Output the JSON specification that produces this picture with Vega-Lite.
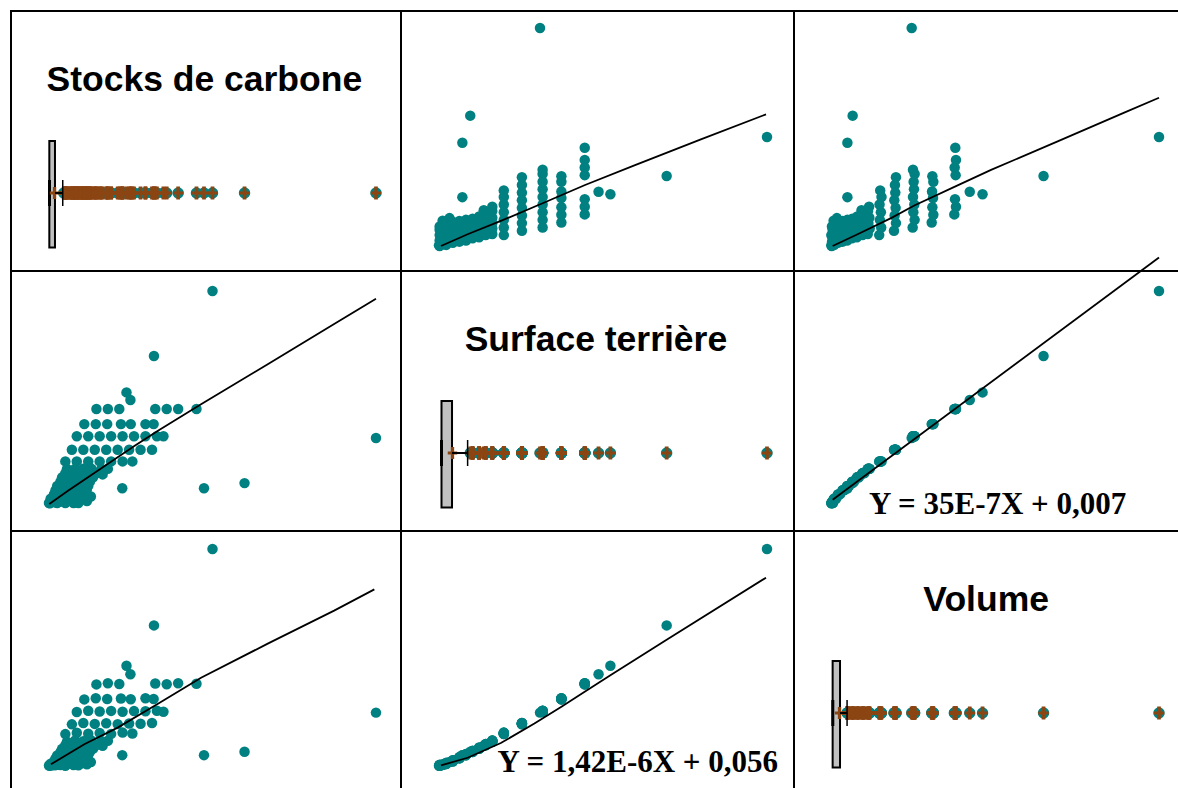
{
  "$schema": "https://vega.github.io/schema/vega-lite/v6.json",
  "background": "white",
  "padding": {"left": 10, "top": 10, "right": 0, "bottom": 0},
  "columns": 3,
  "spacing": 0,
  "bounds": "flush",
  "align": "each",
  "resolve": {"scale": {"x": "independent", "y": "independent"}},
  "config": {
    "view": {"stroke": "#000", "strokeWidth": 2, "fill": "white"},
    "axis": {"disable": true},
    "legend": {"disable": true},
    "concat": {"spacing": 0}
  },
  "datasets": {
    "arbres": [
      {"carbone": 0, "surface": 0.5, "volume": 0.2},
      {"carbone": 2.5, "surface": 0.5, "volume": 0.6},
      {"carbone": 5, "surface": 0.5, "volume": 0.1},
      {"carbone": 7.5, "surface": 0.5, "volume": 0.5},
      {"carbone": 9, "surface": 0.5, "volume": 0.3},
      {"carbone": 11.6, "surface": 1.4, "volume": 0.8},
      {"carbone": 0.5, "surface": 2.5, "volume": 1.0},
      {"carbone": 3, "surface": 2.5, "volume": 1.5},
      {"carbone": 5.5, "surface": 2.5, "volume": 0.9},
      {"carbone": 8, "surface": 2.5, "volume": 1.4},
      {"carbone": 10, "surface": 2.5, "volume": 1.2},
      {"carbone": 12.8, "surface": 3.5, "volume": 1.8},
      {"carbone": 1.5, "surface": 4.5, "volume": 2.1},
      {"carbone": 4, "surface": 4.5, "volume": 2.7},
      {"carbone": 6.5, "surface": 4.5, "volume": 2.3},
      {"carbone": 9, "surface": 4.5, "volume": 2.6},
      {"carbone": 11, "surface": 4.5, "volume": 2.2},
      {"carbone": 2, "surface": 6.5, "volume": 3.5},
      {"carbone": 4.5, "surface": 6.5, "volume": 4.1},
      {"carbone": 7, "surface": 6.5, "volume": 3.7},
      {"carbone": 9.5, "surface": 6.5, "volume": 4.0},
      {"carbone": 11.5, "surface": 6.5, "volume": 3.6},
      {"carbone": 2.5, "surface": 8.5, "volume": 4.9},
      {"carbone": 5, "surface": 8.5, "volume": 5.5},
      {"carbone": 7.5, "surface": 8.5, "volume": 5.1},
      {"carbone": 10, "surface": 8.5, "volume": 5.4},
      {"carbone": 12, "surface": 8.5, "volume": 5.0},
      {"carbone": 3.5, "surface": 10.5, "volume": 6.4},
      {"carbone": 6, "surface": 10.5, "volume": 7.0},
      {"carbone": 8.5, "surface": 10.5, "volume": 6.6},
      {"carbone": 11, "surface": 10.5, "volume": 6.9},
      {"carbone": 12.5, "surface": 10.5, "volume": 6.5},
      {"carbone": 4, "surface": 12.5, "volume": 7.9},
      {"carbone": 6.5, "surface": 12.5, "volume": 8.5},
      {"carbone": 9, "surface": 12.5, "volume": 8.1},
      {"carbone": 11.5, "surface": 12.5, "volume": 8.4},
      {"carbone": 13.5, "surface": 12.5, "volume": 8.0},
      {"carbone": 16.4, "surface": 13.9, "volume": 9.3},
      {"carbone": 5, "surface": 14.5, "volume": 9.6},
      {"carbone": 7.5, "surface": 14.5, "volume": 10.2},
      {"carbone": 10, "surface": 14.5, "volume": 9.8},
      {"carbone": 12.5, "surface": 14.5, "volume": 10.1},
      {"carbone": 14.5, "surface": 14.5, "volume": 9.7},
      {"carbone": 5.5, "surface": 16.5, "volume": 11.2},
      {"carbone": 8, "surface": 16.5, "volume": 11.8},
      {"carbone": 10.5, "surface": 16.5, "volume": 11.4},
      {"carbone": 13, "surface": 16.5, "volume": 11.7},
      {"carbone": 16, "surface": 16.5, "volume": 11.3},
      {"carbone": 18, "surface": 16.5, "volume": 11.6},
      {"carbone": 0.3, "surface": 0.3, "volume": 0.1},
      {"carbone": 1, "surface": 1, "volume": 0.4},
      {"carbone": 0.8, "surface": 1.5, "volume": 0.6},
      {"carbone": 1.8, "surface": 0.8, "volume": 0.3},
      {"carbone": 1.2, "surface": 2, "volume": 0.8},
      {"carbone": 3.5, "surface": 1.2, "volume": 0.5},
      {"carbone": 5, "surface": 20, "volume": 14.7},
      {"carbone": 8.5, "surface": 20, "volume": 15.3},
      {"carbone": 12, "surface": 20, "volume": 14.9},
      {"carbone": 15.5, "surface": 20, "volume": 15.2},
      {"carbone": 19, "surface": 20, "volume": 14.8},
      {"carbone": 22.5, "surface": 20, "volume": 15.4},
      {"carbone": 25.5, "surface": 20, "volume": 15.0},
      {"carbone": 7, "surface": 25.5, "volume": 19.2},
      {"carbone": 10.5, "surface": 25.5, "volume": 19.8},
      {"carbone": 14, "surface": 25.5, "volume": 19.4},
      {"carbone": 17.5, "surface": 25.5, "volume": 19.7},
      {"carbone": 21, "surface": 25.5, "volume": 19.3},
      {"carbone": 24.5, "surface": 25.5, "volume": 19.6},
      {"carbone": 28, "surface": 25.5, "volume": 19.5},
      {"carbone": 31.5, "surface": 25.5, "volume": 19.8},
      {"carbone": 8.5, "surface": 31.8, "volume": 24.9},
      {"carbone": 12, "surface": 31.8, "volume": 25.5},
      {"carbone": 15.5, "surface": 31.8, "volume": 25.1},
      {"carbone": 19, "surface": 31.8, "volume": 25.4},
      {"carbone": 22.5, "surface": 31.8, "volume": 25.0},
      {"carbone": 26, "surface": 31.8, "volume": 25.3},
      {"carbone": 29.5, "surface": 31.8, "volume": 25.2},
      {"carbone": 33, "surface": 31.8, "volume": 25.5},
      {"carbone": 35, "surface": 31.8, "volume": 25.0},
      {"carbone": 100, "surface": 31, "volume": 24.6},
      {"carbone": 10.8, "surface": 37.5, "volume": 30.7},
      {"carbone": 14.3, "surface": 37.5, "volume": 31.2},
      {"carbone": 17.8, "surface": 37.5, "volume": 30.9},
      {"carbone": 22, "surface": 37.5, "volume": 31.1},
      {"carbone": 25, "surface": 37.5, "volume": 30.8},
      {"carbone": 29.5, "surface": 37.5, "volume": 31.2},
      {"carbone": 32, "surface": 37.5, "volume": 30.9},
      {"carbone": 14.5, "surface": 44.6, "volume": 37.6},
      {"carbone": 18, "surface": 44.6, "volume": 38.1},
      {"carbone": 21.5, "surface": 44.6, "volume": 37.8},
      {"carbone": 32.5, "surface": 44.6, "volume": 38.0},
      {"carbone": 36, "surface": 44.6, "volume": 37.7},
      {"carbone": 39.5, "surface": 44.6, "volume": 38.1},
      {"carbone": 45.1, "surface": 44.6, "volume": 37.9},
      {"carbone": 24.9, "surface": 48.8, "volume": 42.3},
      {"carbone": 23.7, "surface": 52.4, "volume": 46.2},
      {"carbone": 32.1, "surface": 69.5, "volume": 64.8},
      {"carbone": 50, "surface": 100, "volume": 100},
      {"carbone": 59.8, "surface": 9.8, "volume": 6.6},
      {"carbone": 47.4, "surface": 7.4, "volume": 5.0},
      {"carbone": 22.4, "surface": 7.4, "volume": 5.0}
    ],
    "boites": [
      {"variable": "carbone", "libelle": "Stocks de carbone", "q1": 0.1, "mediane": 0.15, "q3": 1.83, "haut": 4.2, "moyenne": 1.7},
      {"variable": "surface", "libelle": "Surface terrière", "q1": 1.06, "mediane": 1.06, "q3": 4.26, "haut": 9.0, "moyenne": 4.4},
      {"variable": "volume", "libelle": "Volume", "q1": 0.5, "mediane": 0.55, "q3": 2.75, "haut": 4.9, "moyenne": 2.6}
    ],
    "lissages": [
      {"couple": "surface-carbone", "x": 0.9, "y": 0},
      {"couple": "surface-carbone", "x": 9, "y": 5.4},
      {"couple": "surface-carbone", "x": 19.1, "y": 11.5},
      {"couple": "surface-carbone", "x": 31.8, "y": 19.6},
      {"couple": "surface-carbone", "x": 44.7, "y": 28.0},
      {"couple": "surface-carbone", "x": 59.7, "y": 37.0},
      {"couple": "surface-carbone", "x": 79.9, "y": 48.9},
      {"couple": "surface-carbone", "x": 99.7, "y": 60.4},
      {"couple": "volume-carbone", "x": 0.5, "y": 0},
      {"couple": "volume-carbone", "x": 8.1, "y": 5.4},
      {"couple": "volume-carbone", "x": 18.3, "y": 12.8},
      {"couple": "volume-carbone", "x": 25.4, "y": 18.6},
      {"couple": "volume-carbone", "x": 38.6, "y": 27.8},
      {"couple": "volume-carbone", "x": 48.8, "y": 34.9},
      {"couple": "volume-carbone", "x": 69.1, "y": 48},
      {"couple": "volume-carbone", "x": 89.4, "y": 61.2},
      {"couple": "volume-carbone", "x": 100, "y": 68},
      {"couple": "carbone-surface", "x": 0.1, "y": 0},
      {"couple": "carbone-surface", "x": 5.7, "y": 6.1},
      {"couple": "carbone-surface", "x": 15.9, "y": 16.7},
      {"couple": "carbone-surface", "x": 26.1, "y": 27.2},
      {"couple": "carbone-surface", "x": 33.2, "y": 34.3},
      {"couple": "carbone-surface", "x": 46.5, "y": 46.8},
      {"couple": "carbone-surface", "x": 66.9, "y": 65.6},
      {"couple": "carbone-surface", "x": 87.2, "y": 84.5},
      {"couple": "carbone-surface", "x": 100, "y": 96.4},
      {"couple": "volume-surface", "x": 0.5, "y": 2},
      {"couple": "volume-surface", "x": 100, "y": 115.7},
      {"couple": "carbone-volume", "x": 0.6, "y": 0.8},
      {"couple": "carbone-volume", "x": 10.8, "y": 10},
      {"couple": "carbone-volume", "x": 21, "y": 17.7},
      {"couple": "carbone-volume", "x": 33.2, "y": 28.6},
      {"couple": "carbone-volume", "x": 46.5, "y": 40.7},
      {"couple": "carbone-volume", "x": 66.9, "y": 56.4},
      {"couple": "carbone-volume", "x": 87.2, "y": 71.6},
      {"couple": "carbone-volume", "x": 99.5, "y": 81.4},
      {"couple": "surface-volume", "x": 0.9, "y": 0.3},
      {"couple": "surface-volume", "x": 9, "y": 3.8},
      {"couple": "surface-volume", "x": 19.1, "y": 10.6},
      {"couple": "surface-volume", "x": 29.3, "y": 19.6},
      {"couple": "surface-volume", "x": 37.4, "y": 27.2},
      {"couple": "surface-volume", "x": 44.7, "y": 34.3},
      {"couple": "surface-volume", "x": 52.4, "y": 41.8},
      {"couple": "surface-volume", "x": 69.5, "y": 58.2},
      {"couple": "surface-volume", "x": 99.7, "y": 86.8}
    ],
    "equations": [
      {"couple": "volume-surface", "texte": "Y = 35E-7X + 0,007"},
      {"couple": "surface-volume", "texte": "Y = 1,42E-6X + 0,056"}
    ]
  },
  "concat": [
    {
      "width": 390, "height": 260,
      "layer": [
        {"data": {"name": "arbres"}, "transform": [{"filter": "datum.carbone >= 4.2"}],
         "mark": {"type": "circle", "size": 130, "color": "#008080", "opacity": 1},
         "encoding": {"x": {"field": "carbone", "type": "quantitative", "scale": {"domain": [-11.62, 107.65], "nice": false, "zero": false}},
                      "y": {"datum": 3, "type": "quantitative", "scale": {"domain": [0, 10], "nice": false, "zero": false}}}},
        {"data": {"name": "arbres"}, "transform": [{"filter": "datum.carbone >= 4.2"}],
         "mark": {"type": "point", "shape": "M-1,-0.3H-0.35V-1.25H0.35V-0.3H1V0.3H0.35V1.25H-0.35V0.3H-1Z", "filled": true, "size": 110, "color": "#8B4513", "opacity": 1},
         "encoding": {"x": {"field": "carbone", "type": "quantitative"}, "y": {"datum": 3, "type": "quantitative"}}},
        {"data": {"name": "boites"}, "transform": [{"filter": "datum.variable === 'carbone'"}],
         "mark": {"type": "rect", "fill": "#C0C0C0", "stroke": "#000", "strokeWidth": 2},
         "encoding": {"x": {"field": "q1", "type": "quantitative"}, "x2": {"field": "q3"}, "y": {"datum": 0.9, "type": "quantitative"}, "y2": {"datum": 5}}},
        {"data": {"name": "boites"}, "transform": [{"filter": "datum.variable === 'carbone'"}],
         "mark": {"type": "rule", "color": "#000", "strokeWidth": 3},
         "encoding": {"x": {"field": "mediane", "type": "quantitative"}, "y": {"datum": 2.5, "type": "quantitative"}, "y2": {"datum": 3.5}}},
        {"data": {"name": "boites"}, "transform": [{"filter": "datum.variable === 'carbone'"}],
         "mark": {"type": "point", "shape": "M-1,-0.3H-0.35V-1.25H0.35V-0.3H1V0.3H0.35V1.25H-0.35V0.3H-1Z", "filled": true, "size": 90, "color": "#8B4513", "opacity": 1},
         "encoding": {"x": {"field": "moyenne", "type": "quantitative"}, "y": {"datum": 3, "type": "quantitative"}}},
        {"data": {"name": "boites"}, "transform": [{"filter": "datum.variable === 'carbone'"}],
         "mark": {"type": "rule", "color": "#000", "strokeWidth": 2},
         "encoding": {"x": {"field": "q3", "type": "quantitative"}, "x2": {"field": "haut"}, "y": {"datum": 3, "type": "quantitative"}}},
        {"data": {"name": "boites"}, "transform": [{"filter": "datum.variable === 'carbone'"}],
         "mark": {"type": "rule", "color": "#000", "strokeWidth": 1.5},
         "encoding": {"x": {"field": "haut", "type": "quantitative"}, "y": {"datum": 2.5, "type": "quantitative"}, "y2": {"datum": 3.5}}},
        {"data": {"name": "boites"}, "transform": [{"filter": "datum.variable === 'carbone'"}],
         "mark": {"type": "text", "font": "Liberation Sans, Arial, sans-serif", "fontSize": 35.5, "fontWeight": "bold", "align": "center", "baseline": "alphabetic", "color": "#000"},
         "encoding": {"x": {"datum": 47.5, "type": "quantitative"}, "y": {"datum": 6.93, "type": "quantitative"}, "text": {"field": "libelle", "type": "nominal"}}}
      ]
    },
    {
      "width": 393, "height": 260,
      "layer": [
        {"data": {"name": "arbres"},
         "mark": {"type": "circle", "size": 110, "color": "#008080", "opacity": 1},
         "encoding": {"x": {"field": "surface", "type": "quantitative", "scale": {"domain": [-11.25, 108.21], "nice": false, "zero": false}},
                      "y": {"field": "carbone", "type": "quantitative", "scale": {"domain": [-11.47, 107.8], "nice": false, "zero": false}}}},
        {"data": {"name": "lissages"}, "transform": [{"filter": "datum.couple === 'surface-carbone'"}],
         "mark": {"type": "line", "color": "#000", "strokeWidth": 1.8, "clip": false},
         "encoding": {"x": {"field": "x", "type": "quantitative"}, "y": {"field": "y", "type": "quantitative"}}}
      ]
    },
    {
      "width": 390, "height": 260,
      "layer": [
        {"data": {"name": "arbres"},
         "mark": {"type": "circle", "size": 110, "color": "#008080", "opacity": 1},
         "encoding": {"x": {"field": "volume", "type": "quantitative", "scale": {"domain": [-11.28, 107.62], "nice": false, "zero": false}},
                      "y": {"field": "carbone", "type": "quantitative", "scale": {"domain": [-11.47, 107.8], "nice": false, "zero": false}}}},
        {"data": {"name": "lissages"}, "transform": [{"filter": "datum.couple === 'volume-carbone'"}],
         "mark": {"type": "line", "color": "#000", "strokeWidth": 1.8, "clip": false},
         "encoding": {"x": {"field": "x", "type": "quantitative"}, "y": {"field": "y", "type": "quantitative"}}}
      ]
    },
    {
      "width": 390, "height": 260,
      "layer": [
        {"data": {"name": "arbres"},
         "mark": {"type": "circle", "size": 110, "color": "#008080", "opacity": 1},
         "encoding": {"x": {"field": "carbone", "type": "quantitative", "scale": {"domain": [-11.62, 107.65], "nice": false, "zero": false}},
                      "y": {"field": "surface", "type": "quantitative", "scale": {"domain": [-12.68, 109.39], "nice": false, "zero": false}}}},
        {"data": {"name": "lissages"}, "transform": [{"filter": "datum.couple === 'carbone-surface'"}],
         "mark": {"type": "line", "color": "#000", "strokeWidth": 1.8, "clip": false},
         "encoding": {"x": {"field": "x", "type": "quantitative"}, "y": {"field": "y", "type": "quantitative"}}}
      ]
    },
    {
      "width": 393, "height": 260,
      "layer": [
        {"data": {"name": "arbres"}, "transform": [{"filter": "datum.surface >= 9"}],
         "mark": {"type": "circle", "size": 130, "color": "#008080", "opacity": 1},
         "encoding": {"x": {"field": "surface", "type": "quantitative", "scale": {"domain": [-11.25, 108.21], "nice": false, "zero": false}},
                      "y": {"datum": 3, "type": "quantitative", "scale": {"domain": [0, 10], "nice": false, "zero": false}}}},
        {"data": {"name": "arbres"}, "transform": [{"filter": "datum.surface >= 9"}],
         "mark": {"type": "point", "shape": "M-1,-0.3H-0.35V-1.25H0.35V-0.3H1V0.3H0.35V1.25H-0.35V0.3H-1Z", "filled": true, "size": 110, "color": "#8B4513", "opacity": 1},
         "encoding": {"x": {"field": "surface", "type": "quantitative"}, "y": {"datum": 3, "type": "quantitative"}}},
        {"data": {"name": "boites"}, "transform": [{"filter": "datum.variable === 'surface'"}],
         "mark": {"type": "rect", "fill": "#C0C0C0", "stroke": "#000", "strokeWidth": 2},
         "encoding": {"x": {"field": "q1", "type": "quantitative"}, "x2": {"field": "q3"}, "y": {"datum": 0.9, "type": "quantitative"}, "y2": {"datum": 5}}},
        {"data": {"name": "boites"}, "transform": [{"filter": "datum.variable === 'surface'"}],
         "mark": {"type": "rule", "color": "#000", "strokeWidth": 3},
         "encoding": {"x": {"field": "mediane", "type": "quantitative"}, "y": {"datum": 2.5, "type": "quantitative"}, "y2": {"datum": 3.5}}},
        {"data": {"name": "boites"}, "transform": [{"filter": "datum.variable === 'surface'"}],
         "mark": {"type": "point", "shape": "M-1,-0.3H-0.35V-1.25H0.35V-0.3H1V0.3H0.35V1.25H-0.35V0.3H-1Z", "filled": true, "size": 90, "color": "#8B4513", "opacity": 1},
         "encoding": {"x": {"field": "moyenne", "type": "quantitative"}, "y": {"datum": 3, "type": "quantitative"}}},
        {"data": {"name": "boites"}, "transform": [{"filter": "datum.variable === 'surface'"}],
         "mark": {"type": "rule", "color": "#000", "strokeWidth": 2},
         "encoding": {"x": {"field": "q3", "type": "quantitative"}, "x2": {"field": "haut"}, "y": {"datum": 3, "type": "quantitative"}}},
        {"data": {"name": "boites"}, "transform": [{"filter": "datum.variable === 'surface'"}],
         "mark": {"type": "rule", "color": "#000", "strokeWidth": 1.5},
         "encoding": {"x": {"field": "haut", "type": "quantitative"}, "y": {"datum": 2.5, "type": "quantitative"}, "y2": {"datum": 3.5}}},
        {"data": {"name": "boites"}, "transform": [{"filter": "datum.variable === 'surface'"}],
         "mark": {"type": "text", "font": "Liberation Sans, Arial, sans-serif", "fontSize": 35.5, "fontWeight": "bold", "align": "center", "baseline": "alphabetic", "color": "#000"},
         "encoding": {"x": {"datum": 48.0, "type": "quantitative"}, "y": {"datum": 6.93, "type": "quantitative"}, "text": {"field": "libelle", "type": "nominal"}}}
      ]
    },
    {
      "width": 390, "height": 260,
      "layer": [
        {"data": {"name": "arbres"},
         "mark": {"type": "circle", "size": 110, "color": "#008080", "opacity": 1},
         "encoding": {"x": {"field": "volume", "type": "quantitative", "scale": {"domain": [-11.28, 107.62], "nice": false, "zero": false}},
                      "y": {"field": "surface", "type": "quantitative", "scale": {"domain": [-12.68, 109.39], "nice": false, "zero": false}}}},
        {"data": {"name": "lissages"}, "transform": [{"filter": "datum.couple === 'volume-surface'"}],
         "mark": {"type": "line", "color": "#000", "strokeWidth": 1.8, "clip": false},
         "encoding": {"x": {"field": "x", "type": "quantitative"}, "y": {"field": "y", "type": "quantitative"}}},
        {"data": {"name": "equations"}, "transform": [{"filter": "datum.couple === 'volume-surface'"}],
         "mark": {"type": "text", "font": "Liberation Serif, Times New Roman, serif", "fontSize": 31, "fontWeight": "bold", "align": "left", "baseline": "alphabetic", "color": "#000"},
         "encoding": {"x": {"datum": 11.6, "type": "quantitative"}, "y": {"datum": -4.56, "type": "quantitative"}, "text": {"field": "texte", "type": "nominal"}}}
      ]
    },
    {
      "width": 390, "height": 260,
      "layer": [
        {"data": {"name": "arbres"},
         "mark": {"type": "circle", "size": 110, "color": "#008080", "opacity": 1},
         "encoding": {"x": {"field": "carbone", "type": "quantitative", "scale": {"domain": [-11.62, 107.65], "nice": false, "zero": false}},
                      "y": {"field": "volume", "type": "quantitative", "scale": {"domain": [-11.52, 108.3], "nice": false, "zero": false}}}},
        {"data": {"name": "lissages"}, "transform": [{"filter": "datum.couple === 'carbone-volume'"}],
         "mark": {"type": "line", "color": "#000", "strokeWidth": 1.8, "clip": false},
         "encoding": {"x": {"field": "x", "type": "quantitative"}, "y": {"field": "y", "type": "quantitative"}}}
      ]
    },
    {
      "width": 393, "height": 260,
      "layer": [
        {"data": {"name": "arbres"},
         "mark": {"type": "circle", "size": 110, "color": "#008080", "opacity": 1},
         "encoding": {"x": {"field": "surface", "type": "quantitative", "scale": {"domain": [-11.25, 108.21], "nice": false, "zero": false}},
                      "y": {"field": "volume", "type": "quantitative", "scale": {"domain": [-11.52, 108.3], "nice": false, "zero": false}}}},
        {"data": {"name": "lissages"}, "transform": [{"filter": "datum.couple === 'surface-volume'"}],
         "mark": {"type": "line", "color": "#000", "strokeWidth": 1.8, "clip": false},
         "encoding": {"x": {"field": "x", "type": "quantitative"}, "y": {"field": "y", "type": "quantitative"}}},
        {"data": {"name": "equations"}, "transform": [{"filter": "datum.couple === 'surface-volume'"}],
         "mark": {"type": "text", "font": "Liberation Serif, Times New Roman, serif", "fontSize": 31, "fontWeight": "bold", "align": "left", "baseline": "alphabetic", "color": "#000"},
         "encoding": {"x": {"datum": 18.1, "type": "quantitative"}, "y": {"datum": -2.6, "type": "quantitative"}, "text": {"field": "texte", "type": "nominal"}}}
      ]
    },
    {
      "width": 390, "height": 260,
      "layer": [
        {"data": {"name": "arbres"}, "transform": [{"filter": "datum.volume >= 4.9"}],
         "mark": {"type": "circle", "size": 130, "color": "#008080", "opacity": 1},
         "encoding": {"x": {"field": "volume", "type": "quantitative", "scale": {"domain": [-11.28, 107.62], "nice": false, "zero": false}},
                      "y": {"datum": 3, "type": "quantitative", "scale": {"domain": [0, 10], "nice": false, "zero": false}}}},
        {"data": {"name": "arbres"}, "transform": [{"filter": "datum.volume >= 4.9"}],
         "mark": {"type": "point", "shape": "M-1,-0.3H-0.35V-1.25H0.35V-0.3H1V0.3H0.35V1.25H-0.35V0.3H-1Z", "filled": true, "size": 110, "color": "#8B4513", "opacity": 1},
         "encoding": {"x": {"field": "volume", "type": "quantitative"}, "y": {"datum": 3, "type": "quantitative"}}},
        {"data": {"name": "boites"}, "transform": [{"filter": "datum.variable === 'volume'"}],
         "mark": {"type": "rect", "fill": "#C0C0C0", "stroke": "#000", "strokeWidth": 2},
         "encoding": {"x": {"field": "q1", "type": "quantitative"}, "x2": {"field": "q3"}, "y": {"datum": 0.9, "type": "quantitative"}, "y2": {"datum": 5}}},
        {"data": {"name": "boites"}, "transform": [{"filter": "datum.variable === 'volume'"}],
         "mark": {"type": "rule", "color": "#000", "strokeWidth": 3},
         "encoding": {"x": {"field": "mediane", "type": "quantitative"}, "y": {"datum": 2.5, "type": "quantitative"}, "y2": {"datum": 3.5}}},
        {"data": {"name": "boites"}, "transform": [{"filter": "datum.variable === 'volume'"}],
         "mark": {"type": "point", "shape": "M-1,-0.3H-0.35V-1.25H0.35V-0.3H1V0.3H0.35V1.25H-0.35V0.3H-1Z", "filled": true, "size": 90, "color": "#8B4513", "opacity": 1},
         "encoding": {"x": {"field": "moyenne", "type": "quantitative"}, "y": {"datum": 3, "type": "quantitative"}}},
        {"data": {"name": "boites"}, "transform": [{"filter": "datum.variable === 'volume'"}],
         "mark": {"type": "rule", "color": "#000", "strokeWidth": 2},
         "encoding": {"x": {"field": "q3", "type": "quantitative"}, "x2": {"field": "haut"}, "y": {"datum": 3, "type": "quantitative"}}},
        {"data": {"name": "boites"}, "transform": [{"filter": "datum.variable === 'volume'"}],
         "mark": {"type": "rule", "color": "#000", "strokeWidth": 1.5},
         "encoding": {"x": {"field": "haut", "type": "quantitative"}, "y": {"datum": 2.5, "type": "quantitative"}, "y2": {"datum": 3.5}}},
        {"data": {"name": "boites"}, "transform": [{"filter": "datum.variable === 'volume'"}],
         "mark": {"type": "text", "font": "Liberation Sans, Arial, sans-serif", "fontSize": 35.5, "fontWeight": "bold", "align": "center", "baseline": "alphabetic", "color": "#000"},
         "encoding": {"x": {"datum": 47.3, "type": "quantitative"}, "y": {"datum": 6.93, "type": "quantitative"}, "text": {"field": "libelle", "type": "nominal"}}}
      ]
    }
  ]
}
